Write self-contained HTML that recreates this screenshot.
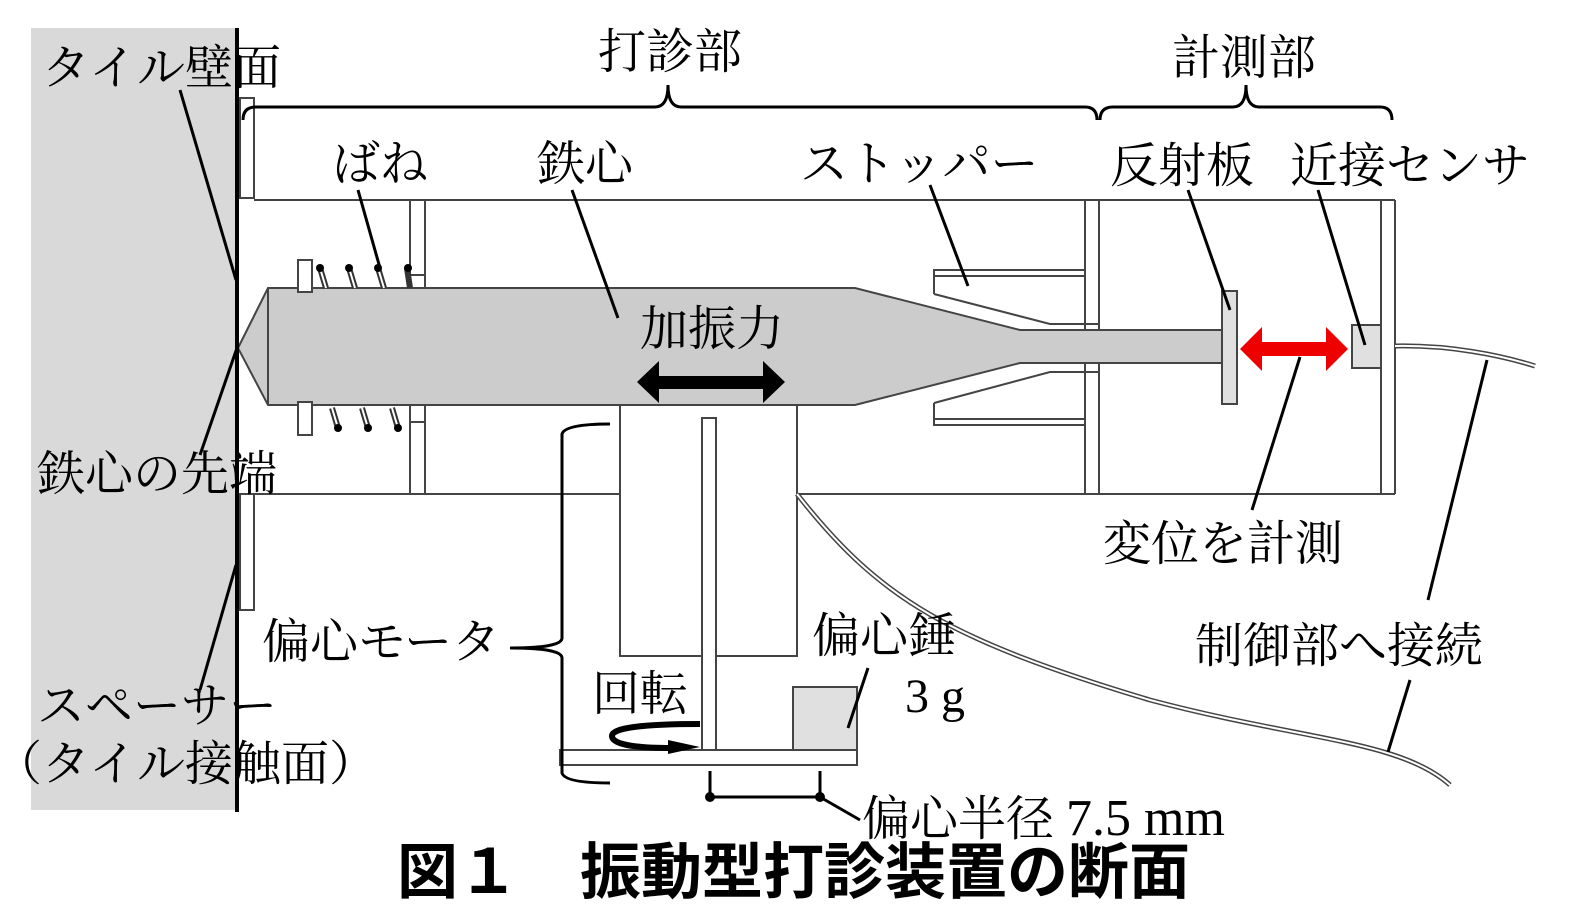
<!DOCTYPE html>
<html><head><meta charset="utf-8"><style>
html,body{margin:0;padding:0;background:#fff;}
svg{display:block;}
.t{font-family:"Liberation Serif","Noto Serif CJK SC",serif;font-size:48px;fill:#000;}
</style></head><body>
<svg width="1575" height="918" viewBox="0 0 1575 918" xmlns="http://www.w3.org/2000/svg">
<rect x="31" y="28" width="206" height="782" fill="#d9d9d9"/>
<g fill="none" stroke="#444" stroke-width="2">
<rect x="240" y="98" width="14" height="100" fill="#fff"/>
<rect x="240" y="494" width="14" height="116" fill="#fff"/>
<line x1="254" y1="200" x2="1395" y2="200"/>
<line x1="254" y1="494" x2="1395" y2="494"/>
<line x1="1395" y1="200" x2="1395" y2="494"/>
<line x1="1381" y1="200" x2="1381" y2="494"/>
<line x1="410" y1="200" x2="410" y2="494"/>
<line x1="425" y1="200" x2="425" y2="494"/>
<line x1="410" y1="275" x2="425" y2="275"/>
<line x1="410" y1="422" x2="425" y2="422"/>
<line x1="1085" y1="200" x2="1085" y2="494"/>
<line x1="1099" y1="200" x2="1099" y2="494"/>
<path d="M934 294 V270 H1085 M934 276 H1085 M934 403 V425 H1085 M934 419 H1085"/>
<path d="M934 294 L1050 324 H1099 M934 403 L1050 372 H1099"/>
</g>
<polygon points="238,348 268,288 855,288 1020,330 1222,330 1222,363 1020,363 855,405 268,405" fill="#cccccc" stroke="#444" stroke-width="2"/>
<line x1="268" y1="288" x2="268" y2="405" stroke="#444" stroke-width="2"/>
<rect x="298" y="260" width="14" height="32" fill="#fff" stroke="#444" stroke-width="2"/>
<rect x="298" y="402" width="14" height="33" fill="#fff" stroke="#444" stroke-width="2"/>
<g fill="none" stroke="#333" stroke-width="6">
<path d="M320 268 L326 288 M349 268 L355 288 M378 268 L384 288 M407 268 L410 288"/>
<path d="M332 408 L338 428 M362 408 L368 428 M392 408 L398 428"/>
</g>
<g fill="none" stroke="#fff" stroke-width="2">
<path d="M320 268 L326 288 M349 268 L355 288 M378 268 L384 288 M332 408 L338 428 M362 408 L368 428 M392 408 L398 428"/>
</g>
<g fill="#000"><circle cx="320" cy="268" r="4"/><circle cx="349" cy="268" r="4"/><circle cx="378" cy="268" r="4"/><circle cx="408" cy="268" r="4"/><circle cx="338" cy="428" r="4"/><circle cx="368" cy="428" r="4"/><circle cx="398" cy="428" r="4"/></g>
<line x1="237" y1="28" x2="237" y2="812" stroke="#000" stroke-width="4"/>
<rect x="1222" y="291" width="15" height="113" fill="#e0e0e0" stroke="#444" stroke-width="2"/>
<rect x="1352" y="325" width="29" height="43" fill="#e0e0e0" stroke="#444" stroke-width="2"/>
<polygon points="1240,349 1262,327 1262,342 1326,342 1326,327 1348,349 1326,371 1326,356 1262,356 1262,371" fill="#ee0000"/>
<polygon points="637,382 659,361 659,376 763,376 763,361 785,382 763,403 763,389 659,389 659,403" fill="#000"/>
<g stroke="#444" stroke-width="2" fill="#fff">
<rect x="620" y="405" width="177" height="251"/>
<rect x="702" y="418" width="14" height="332"/>
<rect x="560" y="750" width="297" height="15"/>
<rect x="793" y="687" width="64" height="63" fill="#e0e0e0"/>
</g>
<g fill="none" stroke="#444" stroke-width="5"><path d="M797 494 C880 600 950 640 1150 700 C1300 740 1400 740 1450 785"/><path d="M1395 346 C1450 345 1500 355 1535 366"/></g>
<g fill="none" stroke="#fff" stroke-width="2"><path d="M797 494 C880 600 950 640 1150 700 C1300 740 1400 740 1450 785"/><path d="M1395 346 C1450 345 1500 355 1535 366"/></g>
<g fill="none" stroke="#000" stroke-width="3">
<path d="M243 120 Q243 107 256 107 H655 Q668 107 668 85 Q668 107 681 107 H1085 Q1097 107 1097 120"/>
<path d="M1100 120 Q1100 107 1113 107 H1233 Q1246 107 1246 85 Q1246 107 1259 107 H1380 Q1392 107 1392 120"/>
<path d="M610 424 Q565 424 562 434 V638 Q562 648 510 648 Q562 648 562 658 V773 Q565 783 610 783"/>
<path d="M710 771 V797 H820 V771"/>
</g>
<circle cx="710" cy="797" r="5"/><circle cx="820" cy="797" r="5"/>
<path d="M700 724 Q612 724 612 736 Q612 748 672 748" fill="none" stroke="#000" stroke-width="6"/>
<polygon points="668,740 700,747 668,754" fill="#000"/>
<g stroke="#000" stroke-width="3">
<line x1="180" y1="90" x2="236" y2="280"/>
<line x1="238" y1="345" x2="200" y2="455"/>
<line x1="236" y1="565" x2="200" y2="690"/>
<line x1="358" y1="190" x2="380" y2="268"/>
<line x1="572" y1="190" x2="618" y2="318"/>
<line x1="930" y1="185" x2="968" y2="286"/>
<line x1="1188" y1="190" x2="1230" y2="310"/>
<line x1="1318" y1="190" x2="1365" y2="345"/>
<line x1="1300" y1="357" x2="1252" y2="510"/>
<line x1="1487" y1="360" x2="1428" y2="600"/>
<line x1="1410" y1="680" x2="1388" y2="752"/>
<line x1="868" y1="668" x2="848" y2="728"/>
<line x1="820" y1="797" x2="860" y2="820"/>
</g>
<text class="t" x="42" y="84">タイル壁面</text>
<text class="t" x="598" y="68">打診部</text>
<text class="t" x="1172" y="74">計測部</text>
<text class="t" x="332" y="180">ばね</text>
<text class="t" x="537" y="180">鉄心</text>
<text class="t" x="800" y="180">ストッパー</text>
<text class="t" x="1110" y="182">反射板</text>
<text class="t" x="1290" y="182">近接センサ</text>
<text class="t" x="640" y="345">加振力</text>
<text class="t" x="37" y="490">鉄心の先端</text>
<text class="t" x="1103" y="560">変位を計測</text>
<text class="t" x="262" y="658">偏心モータ</text>
<text class="t" x="812" y="652">偏心錘</text>
<text class="t" x="905" y="712">3 g</text>
<text class="t" x="1195" y="662">制御部へ接続</text>
<text class="t" x="592" y="710">回転</text>
<text class="t" x="37" y="722">スペーサー</text>
<text class="t" x="-6" y="780">（タイル接触面）</text>
<text class="t" x="862" y="835">偏心半径 <tspan style="font-size:52px">7.5 mm</tspan></text>
<text x="397" y="893" style="font-family:'Liberation Sans','Noto Sans CJK JP',sans-serif;font-size:61px;font-weight:bold;">図１　振動型打診装置の断面</text>
</svg>
</body></html>
